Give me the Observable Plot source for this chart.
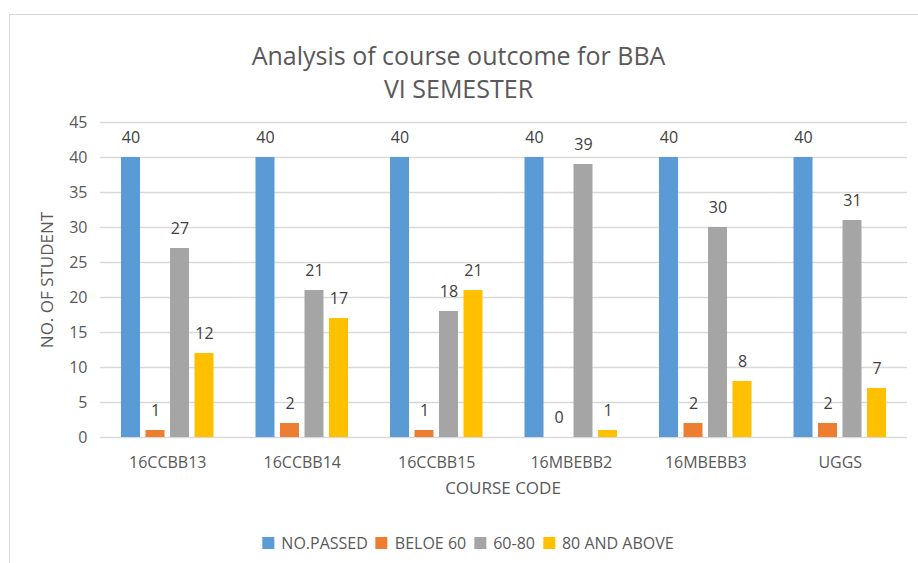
<!DOCTYPE html>
<html>
<head>
<meta charset="utf-8">
<script src="https://cdn.jsdelivr.net/npm/d3@7"></script>
<script src="https://cdn.jsdelivr.net/npm/@observablehq/plot@0.6"></script>
<style>
  html, body { margin: 0; padding: 0; background: #fff; overflow: hidden; }
  #wrap { position: relative; width: 918px; height: 563px; font-family: 'Open Sans', sans-serif; color: #595959; overflow: hidden; }
  #frame { position: absolute; left: 9px; top: 14px; width: 1000px; height: 1000px; border-left: 1.5px solid #d9d9d9; border-top: 1.5px solid #d9d9d9; }
  #chart { position: absolute; left: 0; top: 0; }
  #title { position: absolute; left: 0; top: 39px; width: 917px; text-align: center; font-size: 25px; line-height: 33px; color: #595959; }
  #ylabel { position: absolute; left: 47px; top: 280px; transform: translate(-50%, -50%) rotate(-90deg); font-size: 17px; white-space: nowrap; line-height: 20px; }
  #xlabel { position: absolute; left: 503px; top: 478px; transform: translateX(-50%); font-size: 17px; line-height: 20px; white-space: nowrap; }
  #legend { position: absolute; left: 468px; top: 543px; transform: translate(-50%, -50%); display: flex; align-items: center; font-size: 16px; white-space: nowrap; }
  .item { display: flex; align-items: center; margin: 0 4px; }
  .sw { width: 12px; height: 12px; margin-right: 7px; }
</style>
</head>
<body>
<div id="wrap">
  <div id="frame"></div>
  <div id="chart"></div>
  <div id="title">Analysis of course outcome for BBA<br>VI SEMESTER</div>
  <div id="ylabel">NO. OF STUDENT</div>
  <div id="xlabel">COURSE CODE</div>
  <div id="legend"></div>
</div>
<script>
const courses = ["16CCBB13", "16CCBB14", "16CCBB15", "16MBEBB2", "16MBEBB3", "UGGS"];
const series = ["NO.PASSED", "BELOE 60", "60-80", "80 AND ABOVE"];
const noPassed = [40, 40, 40, 40, 40, 40];
const below60 = [1, 2, 1, 0, 2, 2];
const range6080 = [27, 21, 18, 39, 30, 31];
const above80 = [12, 17, 21, 1, 8, 7];
const colors = ["#5b9bd5", "#ed7d31", "#a5a5a5", "#ffc000"];
const yTicks = [0, 5, 10, 15, 20, 25, 30, 35, 40, 45];

const seriesValues = [noPassed, below60, range6080, above80];
const rows = [];
courses.forEach((c, i) => {
  series.forEach((s, j) => {
    rows.push({course: c, series: s, value: seriesValues[j][i]});
  });
});

const chart = Plot.plot({
  width: 918,
  height: 480,
  marginTop: 122,
  marginLeft: 100,
  marginRight: 11,
  marginBottom: 43,
  style: {fontFamily: "'Open Sans', sans-serif", fontSize: "16px", color: "#595959", background: "transparent", overflow: "visible"},
  fx: {domain: courses, paddingInner: 0, paddingOuter: 0, round: false, label: null, tickSize: 0, tickPadding: 19, axis: "bottom"},
  x: {domain: series, paddingInner: 0.2245, paddingOuter: 0.857, round: false, axis: null},
  y: {domain: [0, 45], ticks: yTicks, tickSize: 0, tickPadding: 13, label: null},
  color: {domain: series, range: colors},
  marks: [
    Plot.gridY({stroke: "#d9d9d9", strokeOpacity: 1, strokeWidth: 1.5}),
    Plot.barY(rows, {fx: "course", x: "series", y: "value", fill: "series"}),
    Plot.text(rows, {fx: "course", x: "series", y: "value", text: d => String(d.value), lineAnchor: "bottom", dy: -15, fill: "#404040"})
  ]
});
document.getElementById("chart").appendChild(chart);

const legend = document.getElementById("legend");
series.forEach((s, j) => {
  const item = document.createElement("div");
  item.className = "item";
  const sw = document.createElement("div");
  sw.className = "sw";
  sw.style.background = colors[j];
  const t = document.createElement("span");
  t.textContent = s;
  item.appendChild(sw);
  item.appendChild(t);
  legend.appendChild(item);
});
</script>
</body>
</html>
